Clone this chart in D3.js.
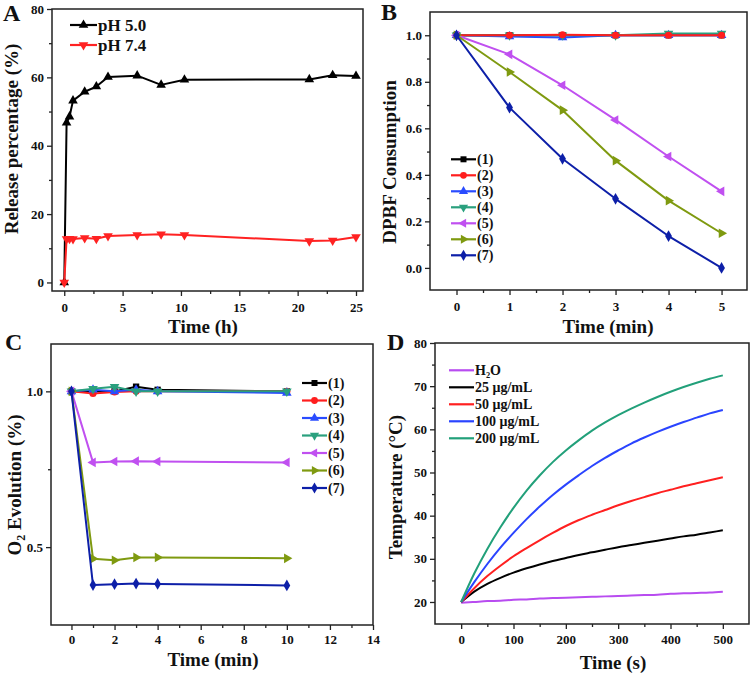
<!DOCTYPE html>
<html><head><meta charset="utf-8">
<script src="https://cdn.jsdelivr.net/npm/d3@7"></script>
<style>
body{margin:0;background:#fff}
svg{display:block}
text{font-family:"Liberation Serif","Times New Roman",serif;font-weight:bold;fill:#111}
</style>
</head><body>
<svg id="c" width="752" height="676"></svg>
<script>
// ---------- DATA ----------
// Panel A: release
const aTime   = [0, 0.2, 0.45, 0.75, 1.75, 2.75, 3.75, 6.25, 8.3, 10.3, 21, 23, 25];
const aPH50   = [0, 46.7, 48.5, 53.2, 55.8, 57.3, 60.1, 60.5, 57.8, 59.3, 59.4, 60.6, 60.4];
const aPH74   = [0, 12.7, 12.8, 12.7, 13.0, 12.8, 13.6, 13.9, 14.1, 13.9, 12.1, 12.3, 13.3];
const aLabels = ["pH 5.0", "pH 7.4"];

// Panel B: DPBF consumption
const bTime = [0, 1, 2, 3, 4, 5];
const bS1 = [1, 1, 1, 1, 1, 1];
const bS2 = [1, 1, 1.002, 1, 1, 1];
const bS3 = [1, 0.995, 0.99, 1, 1, 1];
const bS4 = [1, 1, 1, 1, 1.008, 1.008];
const bS5 = [1, 0.918, 0.785, 0.636, 0.479, 0.329];
const bS6 = [1, 0.842, 0.678, 0.461, 0.289, 0.149];
const bS7 = [1, 0.689, 0.469, 0.297, 0.137, 0.0];
const seriesLabels = ["(1)", "(2)", "(3)", "(4)", "(5)", "(6)", "(7)"];

// Panel C: O2 evolution
const cTime = [0, 1, 2, 3, 4, 10];
const cS1 = [1, 1.0, 1.0, 1.015, 1.005, 1.0];
const cS2 = [1, 0.993, 0.998, 1.0, 1.0, 1.0];
const cS3 = [1, 1.005, 1.0, 1.005, 1.0, 0.995];
const cS4 = [1, 1.008, 1.015, 1.0, 1.0, 1.0];
const cS5 = [1, 0.772, 0.775, 0.776, 0.775, 0.772];
const cS6 = [1, 0.463, 0.458, 0.467, 0.467, 0.464];
const cS7 = [1, 0.378, 0.381, 0.383, 0.382, 0.377];

// Panel D: temperature
const dTime = [0,25,50,75,100,125,150,175,200,225,250,275,300,325,350,375,400,425,450,475,500];
const dH2O  = [19.8,20.0,20.2,20.3,20.5,20.6,20.8,20.9,21.0,21.1,21.2,21.3,21.4,21.5,21.6,21.7,21.9,22.0,22.1,22.2,22.4];
const d25   = [20,22.4,24.2,25.6,26.8,27.8,28.7,29.5,30.2,30.9,31.5,32.1,32.7,33.2,33.7,34.2,34.7,35.2,35.6,36.1,36.6];
const d50   = [20,23.2,26.0,28.4,30.6,32.5,34.3,36.0,37.6,39.0,40.2,41.3,42.4,43.4,44.3,45.2,46.0,46.8,47.5,48.2,48.9];
const d100  = [20,24.6,28.8,32.6,36.0,39.2,42.1,44.8,47.2,49.4,51.5,53.4,55.1,56.7,58.1,59.4,60.6,61.7,62.7,63.7,64.5];
const d200  = [20,26.6,32.3,37.3,41.8,45.8,49.3,52.4,55.1,57.5,59.7,61.6,63.3,64.8,66.2,67.5,68.7,69.8,70.8,71.7,72.5];
const dLabels = ["H2O", "25 μg/mL", "50 μg/mL", "100 μg/mL", "200 μg/mL"];

// ---------- DRAW ----------
const svg = d3.select("#c");
const TICK_FONT = 13;

function makePanel(cfg) {
  const g = svg.append("g");
  const x = d3.scaleLinear().domain(cfg.xd).range([cfg.l, cfg.r]);
  const y = d3.scaleLinear().domain(cfg.yd).range([cfg.b, cfg.t]);
  const clean = s => { s.select(".domain").remove(); s.selectAll("line").attr("stroke", "#222").attr("stroke-width", 1.3); };
  // minor ticks
  g.append("g").attr("transform", `translate(0,${cfg.b})`)
    .call(d3.axisBottom(x).tickValues(cfg.xMinor).tickSize(3).tickFormat("")).call(clean);
  g.append("g").attr("transform", `translate(${cfg.l},0)`)
    .call(d3.axisLeft(y).tickValues(cfg.yMinor).tickSize(3).tickFormat("")).call(clean);
  // major ticks
  const xa = g.append("g").attr("transform", `translate(0,${cfg.b})`)
    .call(d3.axisBottom(x).tickValues(cfg.xTicks).tickSize(5).tickPadding(cfg.xPad || 7).tickFormat(cfg.xFmt)).call(clean);
  const ya = g.append("g").attr("transform", `translate(${cfg.l},0)`)
    .call(d3.axisLeft(y).tickValues(cfg.yTicks).tickSize(5).tickPadding(3).tickFormat(cfg.yFmt)).call(clean);
  [xa, ya].forEach(a => a.selectAll("text").attr("font-size", TICK_FONT).attr("fill", "#111")
      .style("font-family", '"Liberation Serif","Times New Roman",serif').style("font-weight", "bold"));
  // frame
  g.append("rect").attr("x", cfg.l).attr("y", cfg.t).attr("width", cfg.r - cfg.l).attr("height", cfg.b - cfg.t)
    .attr("fill", "none").attr("stroke", "#222").attr("stroke-width", 1.5);
  // titles
  g.append("text").attr("x", cfg.xtX).attr("y", cfg.xtY).attr("text-anchor", "middle")
    .attr("font-size", 19).text(cfg.xTitle);
  const yt = g.append("text").attr("transform", `translate(${cfg.ytX},${cfg.ytY}) rotate(-90)`)
    .attr("text-anchor", "middle").attr("font-size", 19);
  cfg.yTitle(yt);
  g.append("text").attr("x", cfg.letterX).attr("y", cfg.letterY).attr("font-size", 24).text(cfg.letter);
  return {g, x, y};
}

function sym(type, rot) {
  return {type, rot};
}
const SYM = {
  square: sym(d3.symbolSquare, 0),
  circle: sym(d3.symbolCircle, 0),
  up: sym(d3.symbolTriangle, 0),
  down: sym(d3.symbolTriangle, 180),
  left: sym(d3.symbolTriangle, -90),
  right: sym(d3.symbolTriangle, 90),
  diamond: sym(d3.symbolDiamond, 0)
};

function drawSeries(p, xs, ys, color, marker, size) {
  const pts = xs.map((t, i) => [t, ys[i]]);
  p.g.append("path").datum(pts)
    .attr("d", d3.line().x(d => p.x(d[0])).y(d => p.y(d[1])))
    .attr("fill", "none").attr("stroke", color).attr("stroke-width", 2).attr("stroke-linejoin", "round");
  if (marker) {
    const s = d3.symbol().type(marker.type).size(size || 40);
    p.g.append("g").selectAll("path").data(pts).join("path")
      .attr("d", s)
      .attr("transform", d => `translate(${p.x(d[0])},${p.y(d[1])}) rotate(${marker.rot})`)
      .attr("fill", color);
  }
}

function legendItem(g, x1, x2, yc, color, marker, label, fs, size) {
  g.append("line").attr("x1", x1).attr("x2", x2).attr("y1", yc).attr("y2", yc)
    .attr("stroke", color).attr("stroke-width", 2.2);
  if (marker) {
    g.append("path").attr("d", d3.symbol().type(marker.type).size(size || 40))
      .attr("transform", `translate(${(x1 + x2) / 2},${yc}) rotate(${marker.rot})`).attr("fill", color);
  }
  const t = g.append("text").attr("x", x2 + 1).attr("y", yc + fs * 0.35).attr("font-size", fs);
  if (label === "H2O") {
    t.append("tspan").text("H");
    t.append("tspan").attr("font-size", fs * 0.6).attr("dy", 3).text("2");
    t.append("tspan").attr("dy", -3).text("O");
  } else t.text(label);
}

// ---- Panel A ----
const pA = makePanel({
  l: 52, r: 363, t: 9, b: 291,
  xd: [-1.05, 25.6], yd: [-2.5, 80],
  xTicks: [0, 5, 10, 15, 20, 25], xMinor: [2.5, 7.5, 12.5, 17.5, 22.5],
  yTicks: [0, 20, 40, 60, 80], yMinor: [10, 30, 50, 70],
  xFmt: d3.format("d"), yFmt: d3.format("d"),
  xTitle: "Time (h)", xtX: 203, xtY: 333,
  yTitle: t => t.text("Release percentage (%)"), ytX: 18, ytY: 139,
  letter: "A", letterX: 3, letterY: 21
});
drawSeries(pA, aTime, aPH50, "#000000", SYM.up, 40);
drawSeries(pA, aTime, aPH74, "#ff2222", SYM.down, 40);
legendItem(pA.g, 70, 97, 25, "#000000", SYM.up, aLabels[0], 17, 40);
legendItem(pA.g, 70, 97, 45, "#ff2222", SYM.down, aLabels[1], 17, 40);

// ---- Panel B ----
const colors7 = ["#000000", "#ff1e1e", "#2a4cff", "#2aa07e", "#c050f0", "#7f9a10", "#0d1fa8"];
const marks7 = [SYM.square, SYM.circle, SYM.up, SYM.down, SYM.left, SYM.right, SYM.diamond];
const pB = makePanel({
  l: 430, r: 747, t: 12, b: 290,
  xd: [-0.5, 5.48], yd: [-0.095, 1.1],
  xTicks: [0, 1, 2, 3, 4, 5], xMinor: [0.5, 1.5, 2.5, 3.5, 4.5],
  yTicks: [0, 0.2, 0.4, 0.6, 0.8, 1.0], yMinor: [0.1, 0.3, 0.5, 0.7, 0.9],
  xFmt: d3.format("d"), yFmt: d3.format(".1f"),
  xTitle: "Time (min)", xtX: 608, xtY: 333,
  yTitle: t => t.text("DPBF Consumption"), ytX: 396, ytY: 162,
  letter: "B", letterX: 381, letterY: 20
});
const bAll = [bS1, bS2, bS3, bS4, bS5, bS6, bS7];
[0, 2, 3, 1, 4, 5, 6].forEach(i => drawSeries(pB, bTime, bAll[i], colors7[i], marks7[i], 40));
const bLegY = [159.3, 175.3, 191.3, 207.3, 223.3, 239.3, 255.3];
bAll.forEach((_, i) => legendItem(pB.g, 451, 476, bLegY[i], colors7[i], marks7[i], seriesLabels[i], 14, 36));

// ---- Panel C ----
const pC = makePanel({
  l: 51, r: 373, t: 344, b: 625,
  xd: [-0.95, 14.0], yd: [0.25, 1.152],
  xTicks: [0, 2, 4, 6, 8, 10, 12, 14], xMinor: [1, 3, 5, 7, 9, 11, 13],
  yTicks: [0.5, 1.0], yMinor: [0.75],
  xFmt: d3.format("d"), yFmt: d3.format(".1f"), xPad: 5,
  xTitle: "Time (min)", xtX: 213, xtY: 666,
  yTitle: t => {
    t.append("tspan").text("O");
    t.append("tspan").attr("font-size", 12).attr("dy", 4).text("2");
    t.append("tspan").attr("dy", -4).text(" Evolution (%)");
  }, ytX: 21, ytY: 485,
  letter: "C", letterX: 5, letterY: 350
});
const cAll = [cS1, cS2, cS3, cS4, cS5, cS6, cS7];
cAll.forEach((s, i) => drawSeries(pC, cTime, s, colors7[i], marks7[i], 40));
const cLegY = [383, 400.5, 418, 435.5, 453, 470.5, 488];
cAll.forEach((_, i) => legendItem(pC.g, 302, 327, cLegY[i], colors7[i], marks7[i], seriesLabels[i], 14, 36));

// ---- Panel D ----
const dColors = ["#b84cf0", "#000000", "#ff2020", "#2a44ff", "#22a07a"];
const pD = makePanel({
  l: 435, r: 749, t: 343, b: 624,
  xd: [-50, 550], yd: [14.9, 80],
  xTicks: [0, 100, 200, 300, 400, 500], xMinor: [50, 150, 250, 350, 450],
  yTicks: [20, 30, 40, 50, 60, 70, 80], yMinor: [25, 35, 45, 55, 65, 75],
  xFmt: d3.format("d"), yFmt: d3.format("d"), xPad: 6,
  xTitle: "Time (s)", xtX: 613, xtY: 669,
  yTitle: t => t.text("Temperature (°C)"), ytX: 402, ytY: 487,
  letter: "D", letterX: 387, letterY: 350
});
const dAll = [dH2O, d25, d50, d100, d200];
dAll.forEach((s, i) => {
  const pts = dTime.map((t, j) => [t, s[j]]);
  pD.g.append("path").datum(pts)
    .attr("d", d3.line().curve(d3.curveMonotoneX).x(d => pD.x(d[0])).y(d => pD.y(d[1])))
    .attr("fill", "none").attr("stroke", dColors[i]).attr("stroke-width", 2);
});
const dLegY = [370.3, 387.3, 404.3, 421.3, 438.3];
dAll.forEach((_, i) => legendItem(pD.g, 449, 474, dLegY[i], dColors[i], null, dLabels[i], 14));
</script>
</body></html>
